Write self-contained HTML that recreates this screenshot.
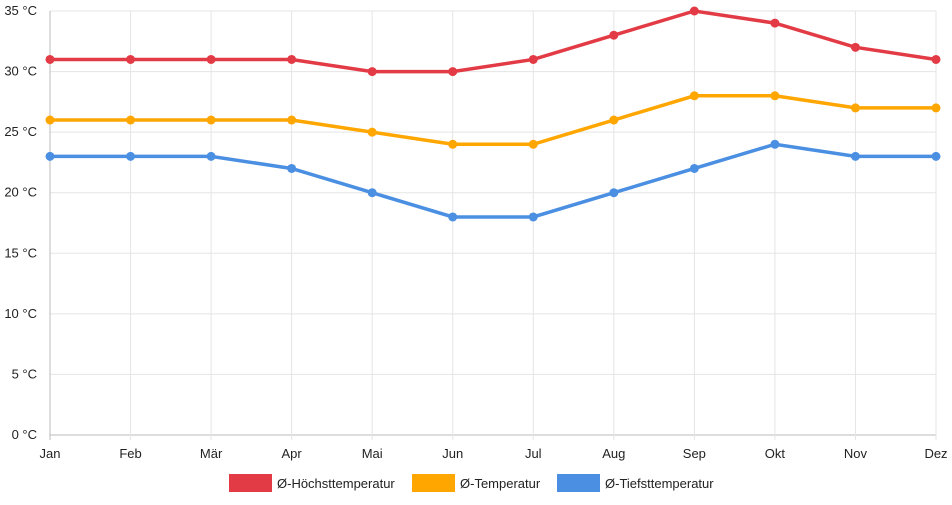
<!DOCTYPE html>
<html><head><meta charset="utf-8"><style>
body{margin:0;background:#fff;font-family:"Liberation Sans",sans-serif;}
svg text{font-family:"Liberation Sans",sans-serif;font-size:13px;fill:#222;}
</style></head><body>
<svg id="c" width="952" height="500"></svg>
<script>
const months=["Jan","Feb","Mär","Apr","Mai","Jun","Jul","Aug","Sep","Okt","Nov","Dez"];
const maxTemp=[31,31,31,31,30,30,31,33,35,34,32,31];
const avgTemp=[26,26,26,26,25,24,24,26,28,28,27,27];
const minTemp=[23,23,23,22,20,18,18,20,22,24,23,23];
const yTicks=[0,5,10,15,20,25,30,35];
const seriesNames=["Ø-Höchsttemperatur","Ø-Temperatur","Ø-Tiefsttemperatur"];
const colors=["#e33b45","#ffa600","#4a8fe2"];
const svg=document.getElementById('c');const NS="http://www.w3.org/2000/svg";
const x0=50,x1=936,y0=435,y1=11;
const xs=i=>x0+i*(x1-x0)/(months.length-1);
const ys=v=>y0-(v/35)*(y0-y1);
function mk(t,a,p){const e=document.createElementNS(NS,t);for(const k in a)e.setAttribute(k,a[k]);(p||svg).appendChild(e);return e;}
yTicks.forEach(v=>{const l=mk('line',{x1:x0,x2:x1,y1:ys(v),y2:ys(v),stroke:v===0?'#bbb':'#e5e5e5'});


const t=mk('text',{x:37,y:ys(v)+4,'text-anchor':'end'});t.textContent=v+' °C';

});
months.forEach((m,i)=>{const l=mk('line',{x1:xs(i),x2:xs(i),y1:y1,y2:y0+5,stroke:i===0?'#bbb':'#e5e5e5'});


const t=mk('text',{x:xs(i),y:458,'text-anchor':'middle'});t.textContent=m;

});
[maxTemp,avgTemp,minTemp].forEach((d,s)=>{
const p=mk('polyline',{points:d.map((v,i)=>xs(i)+','+ys(v)).join(' '),fill:'none',stroke:colors[s],'stroke-width':3.5});


d.forEach((v,i)=>{const c=mk('circle',{cx:xs(i),cy:ys(v),r:4.5,fill:colors[s]});

});});
const lx=[229,412,557];
seriesNames.forEach((n,s)=>{const g=mk('g',{});


mk('rect',{x:lx[s],y:474,width:43,height:18,fill:colors[s]},g);
const t=mk('text',{x:lx[s]+48,y:488},g);t.textContent=n;});
</script>
</body></html>
